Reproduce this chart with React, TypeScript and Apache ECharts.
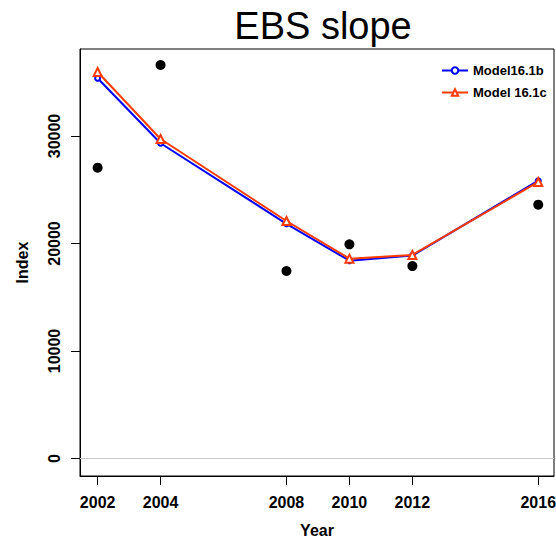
import React, { useEffect, useRef } from "react";
import * as echarts from "echarts";

// Survey years and index values
const years = [2002, 2004, 2008, 2010, 2012, 2016];
const observed = [27050, 36600, 17440, 19920, 17900, 23610];
const model161b = [35370, 29320, 21830, 18400, 18870, 25840];
const model161c = [35950, 29720, 22090, 18590, 18930, 25720];
const yTicks = [0, 10000, 20000, 30000];

const FONT = "'Liberation Sans', Arial, Helvetica, sans-serif";

const pairs = (vals: number[]) => years.map((y, i) => [y, vals[i]]);
const plain = (v: number) => String(Math.round(v));

export default function App() {
  const ref = useRef<HTMLDivElement>(null);

  useEffect(() => {
    if (!ref.current) return;
    const chart = echarts.init(ref.current, undefined, { renderer: "svg" });
    chart.setOption({
      animation: false,
      backgroundColor: "#ffffff",
      title: {
        text: "EBS slope",
        left: 318,
        textAlign: "center",
        top: 2,
        textStyle: {
          fontFamily: FONT,
          fontSize: 38,
          fontWeight: "normal",
          color: "#000",
        },
      },
      legend: {
        orient: "vertical",
        left: 436,
        top: 59,
        itemWidth: 26,
        itemHeight: 8,
        itemGap: 9,
        data: ["Model16.1b", "Model 16.1c"],
        textStyle: {
          fontFamily: FONT,
          fontSize: 13,
          fontWeight: "bold",
          color: "#000",
        },
      },
      grid: {
        left: 80,
        right: 2,
        top: 49,
        bottom: 66,
        containLabel: false,
        outerBoundsMode: "none",
        show: true,
        borderColor: "#000",
        borderWidth: 1,
        backgroundColor: "transparent",
      },
      xAxis: {
        type: "value",
        min: 2001.44,
        max: 2016.5,
        name: "Year",
        nameLocation: "middle",
        nameGap: 46,
        nameTextStyle: {
          fontFamily: FONT,
          fontSize: 16,
          fontWeight: "bold",
          color: "#000",
        },
        splitLine: { show: false },
        axisLine: { show: true, onZero: false, lineStyle: { color: "#000" } },
        axisTick: {
          show: true,
          length: 9,
          customValues: years,
          lineStyle: { color: "#000" },
        },
        axisLabel: {
          customValues: years,
          formatter: plain,
          margin: 18,
          fontFamily: FONT,
          fontSize: 16,
          fontWeight: "bold",
          color: "#000",
        },
      },
      yAxis: {
        type: "value",
        min: -1630,
        max: 38090,
        name: "Index",
        nameLocation: "middle",
        nameGap: 50,
        nameTextStyle: {
          fontFamily: FONT,
          fontSize: 16,
          fontWeight: "bold",
          color: "#000",
        },
        splitLine: { show: false },
        axisLine: { show: true, lineStyle: { color: "#000" } },
        axisTick: {
          show: true,
          length: 9,
          customValues: yTicks,
          lineStyle: { color: "#000" },
        },
        axisLabel: {
          customValues: yTicks,
          formatter: plain,
          rotate: 90,
          margin: 18,
          fontFamily: FONT,
          fontSize: 16,
          fontWeight: "bold",
          color: "#000",
        },
      },
      series: [
        {
          name: "Observed",
          type: "scatter",
          data: pairs(observed),
          symbol: "circle",
          symbolSize: 10,
          itemStyle: { color: "#000", opacity: 1 },
          markLine: {
            silent: true,
            symbol: "none",
            label: { show: false },
            lineStyle: { color: "#c8c8c8", width: 1, type: "solid" },
            data: [{ yAxis: 0 }],
          },
          z: 3,
        },
        {
          name: "Model16.1b",
          type: "line",
          data: pairs(model161b),
          symbol: "emptyCircle",
          symbolSize: 5,
          lineStyle: { color: "#0000ff", width: 2 },
          itemStyle: { color: "#0000ff", borderWidth: 1.5 },
          z: 4,
        },
        {
          name: "Model 16.1c",
          type: "line",
          data: pairs(model161c),
          symbol: "emptyTriangle",
          symbolSize: 8,
          lineStyle: { color: "#ff3c00", width: 2 },
          itemStyle: { color: "#ff3c00", borderWidth: 1.5 },
          z: 5,
        },
      ],
    });
    return () => chart.dispose();
  }, []);

  return (
    <div
      ref={ref}
      style={{ position: "fixed", left: 0, top: 0, width: 556, height: 542 }}
    />
  );
}
